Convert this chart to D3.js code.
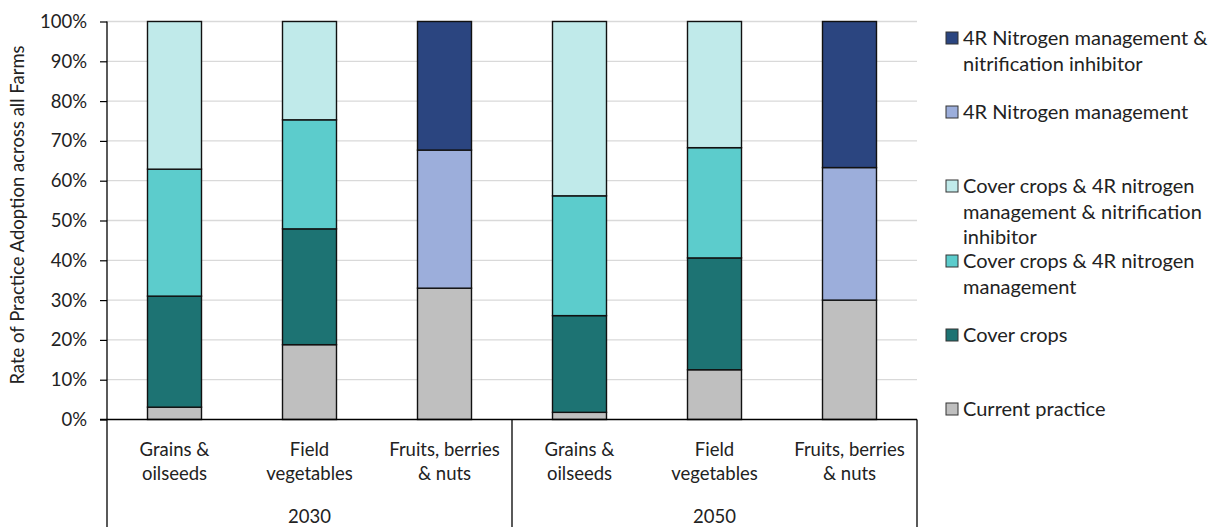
<!DOCTYPE html>
<html>
<head>
<meta charset="utf-8">
<script src="https://cdn.jsdelivr.net/npm/d3@7"></script>
<style>
  html, body { margin: 0; padding: 0; background: #fff; }
  svg { display: block; font-family: Lato, "Open Sans", sans-serif; }
</style>
</head>
<body>
<svg id="chart" width="1216" height="527"></svg>
<script>
// Crop groups and the two target years
const cropTypes = [["Grains &", "oilseeds"], ["Field", "vegetables"], ["Fruits, berries", "& nuts"]];
const years = ["2030", "2050"];
const categories = ["G30", "V30", "F30", "G50", "V50", "F50"];

// Adoption shares (%) per bar, in stacking order bottom -> top
const currentPractice = [3.1, 18.8, 33.0, 1.8, 12.5, 30.0];
const coverCrops      = [27.9, 29.1, 0, 24.3, 28.1, 0];
const cc4R            = [31.9, 27.4, 0, 30.1, 27.7, 0];
const cc4RNI          = [37.1, 24.7, 0, 43.8, 31.7, 0];
const n4R             = [0, 0, 34.7, 0, 0, 33.3];
const n4RNI           = [0, 0, 32.3, 0, 0, 36.7];

const seriesNames = [
  "Current practice",
  "Cover crops",
  "Cover crops & 4R nitrogen management",
  "Cover crops & 4R nitrogen management & nitrification inhibitor",
  "4R Nitrogen management",
  "4R Nitrogen management & nitrification inhibitor"
];
const seriesValues = [currentPractice, coverCrops, cc4R, cc4RNI, n4R, n4RNI];
const seriesColors = ["#bfbfbf", "#1d7373", "#5ccccc", "#c0eaea", "#9caedb", "#2b4580"];

const yTicks = [0, 10, 20, 30, 40, 50, 60, 70, 80, 90, 100];

// Legend lines, top -> bottom, with wrapping as drawn
const legendLines = [
  ["4R Nitrogen management &", "nitrification inhibitor"],
  ["4R Nitrogen management"],
  ["Cover crops & 4R nitrogen", "management & nitrification", "inhibitor"],
  ["Cover crops & 4R nitrogen", "management"],
  ["Cover crops"],
  ["Current practice"]
];
const legendSeries = [5, 4, 3, 2, 1, 0];

const svg = d3.select("#chart");
const plotLeft = 107, plotRight = 917, plotTop = 21.5, plotBottom = 419.5;
const fontSize = "18.5px";

const x = d3.scaleBand().domain(categories).range([plotLeft, plotRight])
  .paddingInner(0.6).paddingOuter(0.3);
const y = d3.scaleLinear().domain([0, 100]).range([plotBottom, plotTop]);

// gridlines
svg.append("g").selectAll("line")
  .data(yTicks.filter(d => d > 0))
  .join("line")
  .attr("x1", plotLeft).attr("x2", plotRight)
  .attr("y1", d => y(d)).attr("y2", d => y(d))
  .attr("stroke", "#d9d9d9").attr("stroke-width", 1.3);

// stacked data
const rows = categories.map((c, i) => {
  const r = { cat: c };
  seriesValues.forEach((arr, k) => r["s" + k] = arr[i]);
  return r;
});
const stack = d3.stack().keys(seriesValues.map((_, k) => "s" + k))(rows);

const gBars = svg.append("g");
stack.forEach((layer, k) => {
  gBars.append("g").selectAll("rect")
    .data(layer.filter(d => d[1] - d[0] > 0))
    .join("rect")
    .attr("x", d => x(d.data.cat))
    .attr("width", x.bandwidth())
    .attr("y", d => y(d[1]))
    .attr("height", d => y(d[0]) - y(d[1]))
    .attr("fill", seriesColors[k])
    .attr("stroke", "#111")
    .attr("stroke-width", 1.4);
});

// y axis
const yAxis = d3.axisLeft(y).tickValues(yTicks).tickFormat(d => d + "%").tickSize(7).tickPadding(13);
const gy = svg.append("g").attr("transform", `translate(${plotLeft},0)`).call(yAxis);
gy.select(".domain").remove();
gy.selectAll(".tick line").attr("stroke", "#000").attr("stroke-width", 1.2);
gy.selectAll(".tick text").attr("fill", "#222").style("font-size", fontSize).style("font-family", "Lato, sans-serif");

// axis frame lines
const frame = svg.append("g").attr("stroke", "#000").attr("stroke-width", 1.3);
frame.append("line").attr("x1", plotLeft).attr("x2", plotLeft).attr("y1", plotTop).attr("y2", 527);
frame.append("line").attr("x1", plotLeft - 7).attr("x2", plotRight).attr("y1", plotBottom).attr("y2", plotBottom);
frame.append("line").attr("x1", (plotLeft + plotRight) / 2).attr("x2", (plotLeft + plotRight) / 2).attr("y1", plotBottom).attr("y2", 527);
frame.append("line").attr("x1", plotRight).attr("x2", plotRight).attr("y1", plotBottom).attr("y2", 527);

// category labels
const gCat = svg.append("g").attr("fill", "#222").style("font-size", fontSize).attr("text-anchor", "middle");
categories.forEach((c, i) => {
  const cx = x(c) + x.bandwidth() / 2;
  const lines = cropTypes[i % 3];
  lines.forEach((t, j) => {
    gCat.append("text").attr("x", cx).attr("y", 456 + j * 24).text(t);
  });
});
years.forEach((yr, i) => {
  const cx = (x(categories[i * 3]) + x(categories[i * 3 + 2]) + x.bandwidth()) / 2;
  gCat.append("text").attr("x", cx).attr("y", 523).text(yr);
});

// y axis title
svg.append("text")
  .attr("transform", `translate(24,215) rotate(-90)`)
  .attr("text-anchor", "middle").attr("fill", "#222").style("font-size", fontSize)
  .text("Rate of Practice Adoption across all Farms");

// legend
const legendTop = [38, 112, 186, 261, 335, 409];
const gLeg = svg.append("g");
legendLines.forEach((lines, i) => {
  const k = legendSeries[i];
  const cy = legendTop[i];
  gLeg.append("rect")
    .attr("x", 946).attr("y", cy - 6).attr("width", 12).attr("height", 12)
    .attr("fill", seriesColors[k]).attr("stroke", "#333").attr("stroke-width", 1);
  lines.forEach((t, j) => {
    gLeg.append("text")
      .attr("x", 963).attr("y", cy + 7 + j * 25.5)
      .attr("fill", "#222").style("font-size", "20px")
      .text(t);
  });
});
</script>
</body>
</html>
